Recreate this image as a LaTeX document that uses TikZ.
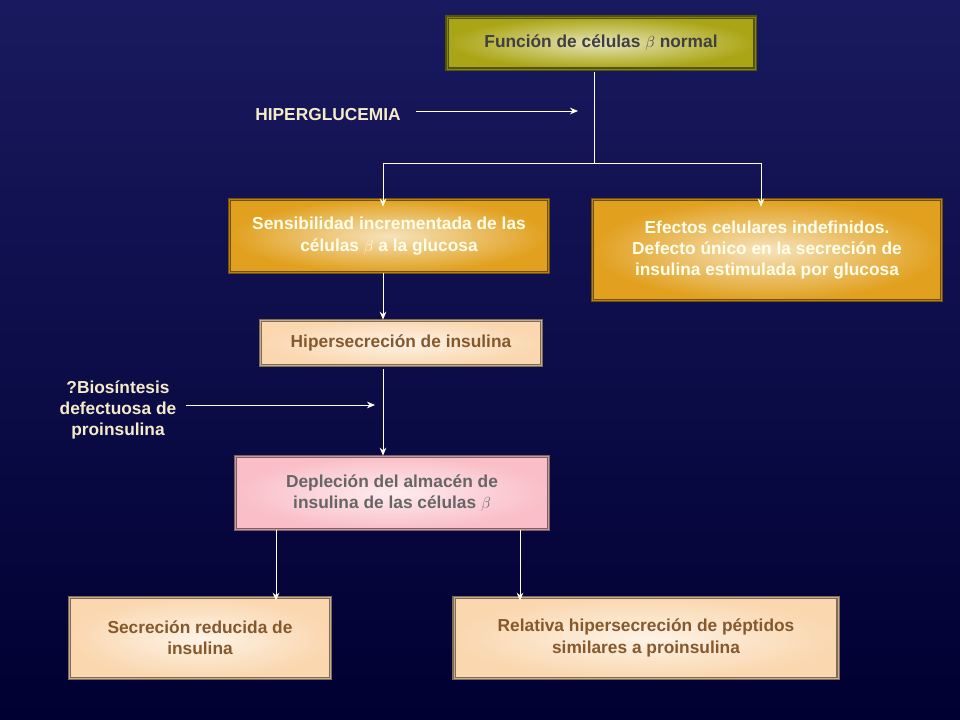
\documentclass[tikz,border=0pt]{standalone}
\usepackage{fontspec}
\setmainfont{Liberation Sans}
\usetikzlibrary{arrows.meta}
\definecolor{olivebox}{RGB}{170,165,20}
\definecolor{goldbox}{RGB}{225,160,30}
\definecolor{peachbox}{RGB}{250,215,175}
\definecolor{pinkbox}{RGB}{250,190,200}
\definecolor{bgtop}{RGB}{25,25,95}
\definecolor{bgbot}{RGB}{0,0,50}
\definecolor{labeltxt}{RGB}{245,235,200}
\begin{document}
\begin{tikzpicture}
  [
    x=0.75pt, y=-0.75pt,
    font=\bfseries\fontsize{13}{16}\selectfont,
    box/.style =
      {draw=#1!50!black, line width=1pt, double=#1!80!black, double distance=0.6pt,
       rectangle, align=center, inner color=white!70!#1, outer color=#1},
    link/.style = {draw=white!90!yellow, line width=0.6pt},
    arr/.style  = {link, -{Stealth[length=6pt,width=5pt]}}
  ]
  \shade[top color=bgtop, bottom color=bgbot] (0,0) rectangle (960,720);
  \useasboundingbox (0,0) rectangle (960,720);

  \node [box=olivebox, minimum width=231pt, minimum height=39pt, text=black!75] at (601,43)  (fun) {Función de células $\beta$ normal};
  \node [box=goldbox,  minimum width=239pt, minimum height=55pt, text=white!92!yellow] at (389,236) (sen) {Sensibilidad incrementada de las\\células $\beta$ a la glucosa};
  \node [box=goldbox,  minimum width=262pt, minimum height=76pt, text=white!92!yellow] at (767,250) (efe) {Efectos celulares indefinidos.\\Defecto único en la secreción de\\insulina estimulada por glucosa};
  \node [box=peachbox, minimum width=211pt, minimum height=34pt, text=brown!70!black] at (401,343) (hip) {Hipersecreción de insulina};
  \node [box=pinkbox,  minimum width=235pt, minimum height=55pt, text=black!60] at (392,493) (dep) {Depleción del almacén de\\insulina de las células $\beta$};
  \node [box=peachbox, minimum width=196pt, minimum height=61pt, text=brown!70!black] at (200,638) (sec) {Secreción reducida de\\insulina};
  \node [box=peachbox, minimum width=288pt, minimum height=61pt, text=brown!70!black] at (646,638) (rel) {Relativa hipersecreción de péptidos\\similares a proinsulina};

  \node [text=labeltxt] at (328,115) (hgl) {HIPERGLUCEMIA};
  \node [text=labeltxt, align=center] at (118,410) (bio) {?Biosíntesis\\defectuosa de\\proinsulina};

  \coordinate (top)  at (594,72);
  \coordinate (mid)  at (594,163);
  \coordinate (lft)  at (383,163);
  \coordinate (rgt)  at (761,163);
  \coordinate (hin)  at (578,111);
  \coordinate (bin)  at (375,405);

  \draw[link] (top) -- (mid);
  \draw[link] (lft) -- (rgt);
  \draw[arr]  (lft) -- ([yshift=-6pt]sen.north -| lft);
  \draw[arr]  (rgt) -- ([yshift=-6pt]efe.north -| rgt);
  \draw[arr]  ([xshift=8pt]hgl.east |- hin) -- (hin);
  \draw[arr]  (sen.south -| lft) -- (hip.north -| lft);
  \draw[arr]  ([yshift=-2pt]hip.south -| lft) -- (dep.north -| lft);
  \draw[arr]  ([xshift=4pt]bio.east |- bin) -- (bin);
  \draw[arr]  ([xshift=-87pt]dep.south) -- ([yshift=-3pt,xshift=-87pt]dep.south |- sec.north);
  \draw[arr]  ([xshift=96pt]dep.south) -- ([yshift=-3pt,xshift=96pt]dep.south |- rel.north);

\end{tikzpicture}
\end{document}
